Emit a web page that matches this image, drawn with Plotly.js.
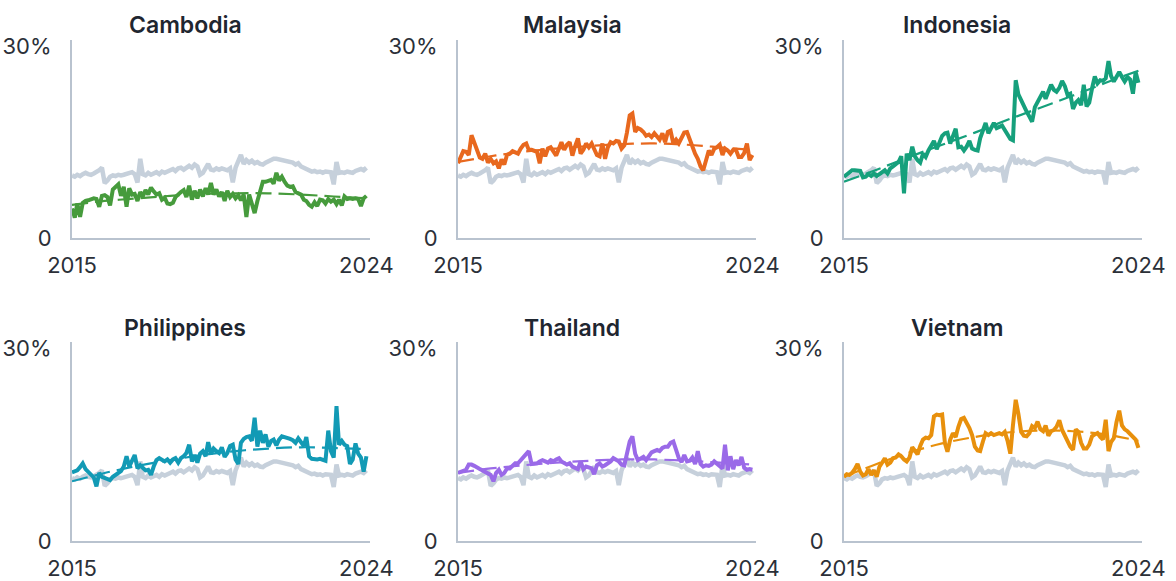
<!DOCTYPE html>
<html><head><meta charset="utf-8">
<script src="https://cdn.plot.ly/plotly-3.0.1.min.js"></script>
<style>html,body{margin:0;padding:0;background:#fff}#chart{width:1176px;height:581px}</style>
</head><body><div id="chart"></div>
<script>
const countries = ['Cambodia','Malaysia','Indonesia','Philippines','Thailand','Vietnam'];
const colors = ['#469b3c','#e8681e','#16a07c','#129ab5','#9a6ae8','#e8900c'];
const startYear = 2015, nMonths = 109;
const months = [];
for (let i = 0; i < nMonths; i++) {
  const y = startYear + Math.floor(i / 12), m = (i % 12) + 1;
  months.push(y + '-' + String(m).padStart(2, '0') + '-01');
}
const trendDates = ['2015-01-01','2016-01-01','2017-01-01','2018-01-01','2019-01-01','2020-01-01','2021-01-01','2022-01-01','2023-01-01','2024-01-01'];
const xTickVals = ['2015-01-01','2024-01-01'];
const xTickText = ['2015','2024'];
const yTickVals = [0, 30];
const yTickText = ['0','30%'];

// Regional average (grey), monthly
const regional = [
 9.8, 9.6, 9.9, 9.7, 10.0, 10.2, 10.0, 9.9, 10.1, 10.3, 10.6, 11.0,
 8.6, 9.0, 9.6, 9.8, 9.7, 9.9, 9.8, 9.9, 10.0, 10.1, 10.3, 10.0,
 8.7, 12.4, 10.0, 9.8, 10.2, 9.9, 10.1, 10.3, 10.0, 10.4, 10.2, 10.5,
 10.6, 10.8, 10.5, 10.9, 11.0, 10.7, 11.1, 11.3, 11.0, 11.5, 11.2, 9.9,
 10.2, 10.8, 11.6, 10.7, 10.6, 10.9, 10.7, 10.9, 10.8, 10.6, 10.9, 8.7,
 11.0, 12.0, 13.0, 11.6, 12.2, 11.8, 12.1, 11.7, 11.9, 11.6, 11.5, 11.8,
 12.0, 12.3, 12.4, 12.4, 12.3, 12.2, 12.1, 12.0, 11.9, 11.8, 11.5, 11.7,
 11.2, 11.0, 10.8, 10.6, 10.4, 10.5, 10.3, 10.4, 10.2, 10.4, 10.3, 10.3,
 8.4, 11.9, 10.2, 10.3, 10.2, 10.4, 10.3, 10.2, 10.5, 10.6, 10.8, 10.6,
 11.0];

const cambodia = [
 4.6, 3.2, 5.4, 3.3, 5.5, 5.8, 5.9, 6.0, 6.2, 6.1, 4.9, 6.6,
 6.7, 6.4, 5.1, 7.6, 8.1, 8.4, 6.6, 8.0, 4.9, 7.8, 6.8, 6.9,
 5.8, 7.2, 6.5, 7.5, 6.8, 7.9, 7.3, 6.8, 7.0, 6.0, 6.3, 5.4,
 5.3, 5.5, 6.4, 6.9, 7.2, 7.5, 6.4, 8.2, 6.0, 7.4, 6.2, 7.6,
 6.5, 7.8, 6.8, 8.6, 6.8, 7.6, 6.5, 7.2, 5.8, 7.4, 6.4, 6.9,
 6.2, 6.7, 5.9, 6.8, 3.3, 6.8, 5.5, 3.9, 5.8, 7.2, 8.8, 8.8,
 8.9, 9.1, 8.5, 10.2, 9.0, 9.6, 8.8, 8.2, 8.0, 8.1, 7.2, 7.0,
 6.8, 6.0, 5.8, 5.2, 4.9, 5.6, 5.0, 6.0, 5.9, 5.4, 6.1, 5.7,
 6.0, 5.3, 6.0, 5.1, 6.5, 6.1, 6.2, 6.1, 6.2, 6.1, 5.0, 6.2,
 6.6];
const malaysia = [
 11.7, 12.8, 13.6, 13.5, 13.0, 16.1, 15.0, 13.8, 12.6, 12.4, 13.2, 11.8,
 12.4, 11.7, 12.0, 10.9, 12.3, 11.5, 13.0, 13.2, 13.6, 13.4, 13.2, 14.0,
 14.6, 14.8, 13.8, 13.8, 13.7, 13.5, 11.7, 14.0, 12.8, 14.0, 14.2, 13.4,
 12.9, 14.0, 15.0, 13.8, 14.6, 15.0, 12.9, 14.4, 15.6, 13.2, 13.8, 14.8,
 14.2, 14.8, 13.8, 13.0, 12.8, 14.8, 12.4, 14.2, 15.0, 14.8, 15.2, 15.1,
 14.0, 14.5, 16.5, 19.2, 19.5, 16.6, 17.2, 17.0, 16.6, 16.0, 16.2, 15.8,
 16.4, 15.8, 15.4, 16.4, 15.0, 16.6, 16.8, 14.8, 15.4, 14.8, 15.6, 16.5,
 16.6, 15.4, 14.0, 13.2, 12.4, 11.2, 10.6, 12.4, 13.7, 13.0, 14.0, 14.2,
 14.6, 13.0, 14.0, 13.7, 13.2, 13.8, 13.8, 12.7, 12.7, 13.3, 14.8, 12.2,
 13.0];
const indonesia = [
 9.6, 9.9, 10.3, 10.6, 10.6, 10.6, 10.5, 9.5, 9.6, 10.0, 9.7, 10.1,
 9.7, 10.0, 10.3, 10.6, 10.1, 10.9, 11.2, 11.5, 11.9, 12.8, 7.0, 13.2,
 12.2, 14.3, 12.8, 12.2, 11.8, 13.2, 12.7, 13.7, 14.4, 15.2, 13.9, 14.8,
 16.0, 16.4, 16.5, 14.8, 16.2, 17.1, 14.2, 14.3, 13.7, 14.3, 15.2, 14.0,
 13.8, 13.7, 15.6, 17.0, 18.0, 16.4, 17.2, 18.0, 17.2, 17.4, 17.6, 16.9,
 16.2, 15.5, 15.3, 24.7, 22.5, 21.5, 20.5, 19.8, 19.0, 18.2, 20.5, 21.3,
 22.4, 22.9, 21.8, 23.0, 24.0, 23.2, 22.9, 23.5, 24.6, 23.8, 22.4, 22.6,
 20.2, 21.2, 21.6, 20.8, 24.0, 20.6, 21.2, 23.4, 25.3, 24.2, 24.7, 24.6,
 25.0, 27.7, 25.4, 24.5, 25.4, 26.0, 25.2, 24.5, 25.2, 24.8, 22.6, 26.0,
 24.3];
const philippines = [
 10.7, 10.8, 11.0, 11.5, 12.1, 11.2, 10.7, 10.2, 9.9, 8.5, 10.6, 10.0,
 9.8, 9.7, 9.5, 10.0, 10.3, 10.6, 10.9, 11.6, 13.2, 11.6, 12.6, 13.4,
 11.3, 11.8, 11.4, 11.0, 11.1, 10.3, 11.6, 12.6, 12.9, 12.6, 12.4, 12.7,
 12.2, 12.7, 12.9, 12.2, 12.9, 13.2, 13.7, 15.0, 12.4, 13.4, 12.2, 13.6,
 14.0, 13.2, 15.4, 13.6, 14.4, 14.0, 13.7, 14.6, 13.1, 13.7, 14.8, 15.0,
 12.7, 12.0, 15.3, 15.9, 16.2, 16.3, 15.6, 19.2, 14.7, 17.2, 15.3, 16.6,
 14.7, 15.6, 15.8, 14.9, 15.8, 16.3, 16.2, 16.0, 15.9, 15.7, 15.3, 16.0,
 15.4, 14.8, 16.2, 13.2, 12.8, 12.7, 12.7, 12.8, 12.7, 12.5, 17.2, 14.0,
 13.0, 21.0, 15.0, 15.6, 15.0, 14.8, 12.0, 12.7, 15.2, 13.6, 13.0, 10.8,
 13.2];
const thailand = [
 10.6, 10.8, 11.0, 11.1, 11.9, 11.9, 11.7, 11.4, 11.2, 11.0, 10.8, 10.6,
 10.3, 9.3, 10.6, 11.1, 10.3, 10.6, 11.3, 11.3, 11.8, 12.1, 12.1, 12.6,
 12.9, 13.4, 14.0, 12.0, 12.1, 12.1, 12.4, 12.6, 12.4, 12.2, 12.6, 12.4,
 12.7, 12.9, 12.4, 12.1, 11.9, 12.1, 11.6, 11.4, 11.2, 12.4, 11.2, 11.6,
 11.5, 11.3, 10.4, 11.8, 12.1, 11.6, 11.8, 12.1, 12.4, 12.9, 12.6, 12.4,
 11.9, 11.8, 13.6, 15.5, 16.3, 13.6, 12.6, 12.9, 13.1, 12.6, 13.2, 13.8,
 14.0, 14.2, 14.0, 14.5, 14.7, 14.7, 15.3, 15.5, 14.2, 12.9, 12.3, 13.4,
 12.4, 12.5, 13.0, 12.0, 14.0, 12.0, 11.6, 11.8, 11.7, 11.9, 12.4, 12.0,
 11.8, 11.3, 15.0, 11.0, 13.2, 11.2, 12.6, 11.8, 13.1, 11.4, 11.1, 11.2,
 11.1];
const vietnam = [
 10.0, 10.4, 10.3, 10.6, 11.2, 12.0, 10.8, 10.2, 10.4, 11.2, 10.3, 11.0,
 10.0, 11.6, 12.2, 12.9, 11.9, 12.2, 12.9, 13.0, 13.5, 13.2, 12.7, 12.4,
 13.0, 14.6, 14.1, 13.5, 14.8, 15.8, 16.1, 16.0, 16.5, 19.4, 19.7, 19.6,
 19.7, 15.2, 13.9, 15.8, 16.8, 16.2, 17.8, 19.0, 19.2, 18.5, 17.6, 16.5,
 14.7, 14.1, 14.0, 15.5, 16.8, 16.5, 16.8, 16.5, 16.6, 16.8, 16.6, 17.0,
 15.6, 13.6, 18.0, 22.0, 19.8, 17.0, 16.4, 16.3, 16.8, 17.9, 17.6, 18.6,
 17.4, 17.1, 18.0, 16.4, 17.1, 17.3, 17.8, 18.8, 17.3, 16.4, 15.6, 14.7,
 14.2, 17.4, 17.0, 15.3, 14.4, 14.4, 15.0, 16.3, 16.6, 16.8, 16.2, 15.8,
 18.9, 14.0, 15.4, 16.0, 18.5, 20.3, 18.0, 17.4, 17.1, 16.6, 16.3, 15.8,
 14.5];

// Trend (dashed) values, read yearly
const cambodiaTrend    = [5.2, 5.8, 6.2, 6.6, 6.9, 7.0, 7.0, 6.8, 6.5, 6.2];
const malaysiaTrend    = [11.9, 12.8, 13.5, 14.0, 14.4, 14.7, 14.8, 14.6, 14.2, 13.8];
const indonesiaTrend   = [8.8, 10.7, 12.7, 14.6, 16.5, 18.5, 20.4, 22.3, 24.3, 26.2];
const philippinesTrend = [9.3, 10.6, 11.7, 12.6, 13.4, 14.0, 14.4, 14.6, 14.5, 14.3];
const thailandTrend    = [10.6, 11.3, 11.8, 12.2, 12.5, 12.7, 12.7, 12.5, 12.2, 11.9];
const vietnamTrend     = [10.0, 12.0, 13.8, 15.2, 16.2, 16.9, 17.2, 17.1, 16.6, 15.6];

const seriesList = [cambodia, malaysia, indonesia, philippines, thailand, vietnam];
const trendList = [cambodiaTrend, malaysiaTrend, indonesiaTrend, philippinesTrend, thailandTrend, vietnamTrend];

const W = 1176, H = 581;
const colPx = [[72, 370], [458, 756], [844, 1142]];
const rowPx = [[40, 238], [342, 541]];
const titleX = [185, 572, 957];
const titleY = [25, 328];

const data = [];
const layout = {
  width: W, height: H,
  margin: {l: 0, r: 0, t: 0, b: 0},
  paper_bgcolor: '#fff', plot_bgcolor: '#fff',
  showlegend: false,
  font: {family: 'Inter, "Noto Sans", sans-serif', color: '#2b3038', size: 22},
  annotations: []
};

countries.forEach((name, i) => {
  const r = Math.floor(i / 3), c = i % 3;
  const ax = i === 0 ? '' : String(i + 1);
  const xa = 'x' + ax, ya = 'y' + ax;
  data.push({x: months, y: regional, xaxis: xa, yaxis: ya, type: 'scatter', mode: 'lines',
    line: {color: '#c6d0db', width: 4.5}, hoverinfo: 'skip'});
  data.push({x: months, y: seriesList[i], xaxis: xa, yaxis: ya, type: 'scatter', mode: 'lines',
    line: {color: colors[i], width: 4}, hoverinfo: 'skip'});
  data.push({x: trendDates, y: trendList[i], xaxis: xa, yaxis: ya, type: 'scatter', mode: 'lines',
    line: {color: colors[i], width: 2.2, dash: '16px,7px', shape: 'spline'}, hoverinfo: 'skip'});
  layout['xaxis' + ax] = {
    domain: [colPx[c][0] / W, colPx[c][1] / W], anchor: ya, type: 'date',
    range: ['2015-01-01', '2024-02-10'],
    showgrid: false, zeroline: false, showline: true, linecolor: '#b9c3cf', linewidth: 2,
    ticks: '', tickvals: xTickVals, ticktext: xTickText, ticklabelstandoff: 7,
    tickfont: {size: 22, color: '#2b3038', weight: 400}
  };
  layout['yaxis' + ax] = {
    domain: [1 - rowPx[r][1] / H, 1 - rowPx[r][0] / H], anchor: xa,
    range: [0, 31], showgrid: false, zeroline: false, showline: true, linecolor: '#b9c3cf', linewidth: 2,
    ticks: '', tickvals: yTickVals, ticktext: yTickText, ticklabelstandoff: 14,
    tickfont: {size: 22, color: '#2b3038', weight: 400}
  };
  layout.annotations.push({
    text: name, xref: 'paper', yref: 'paper', x: titleX[c] / W, y: 1 - titleY[r] / H,
    xanchor: 'center', yanchor: 'middle', showarrow: false,
    font: {size: 23, color: '#1f2630', weight: 600}
  });
});

Plotly.newPlot('chart', data, layout, {displayModeBar: false, staticPlot: true});
</script>
</body></html>
